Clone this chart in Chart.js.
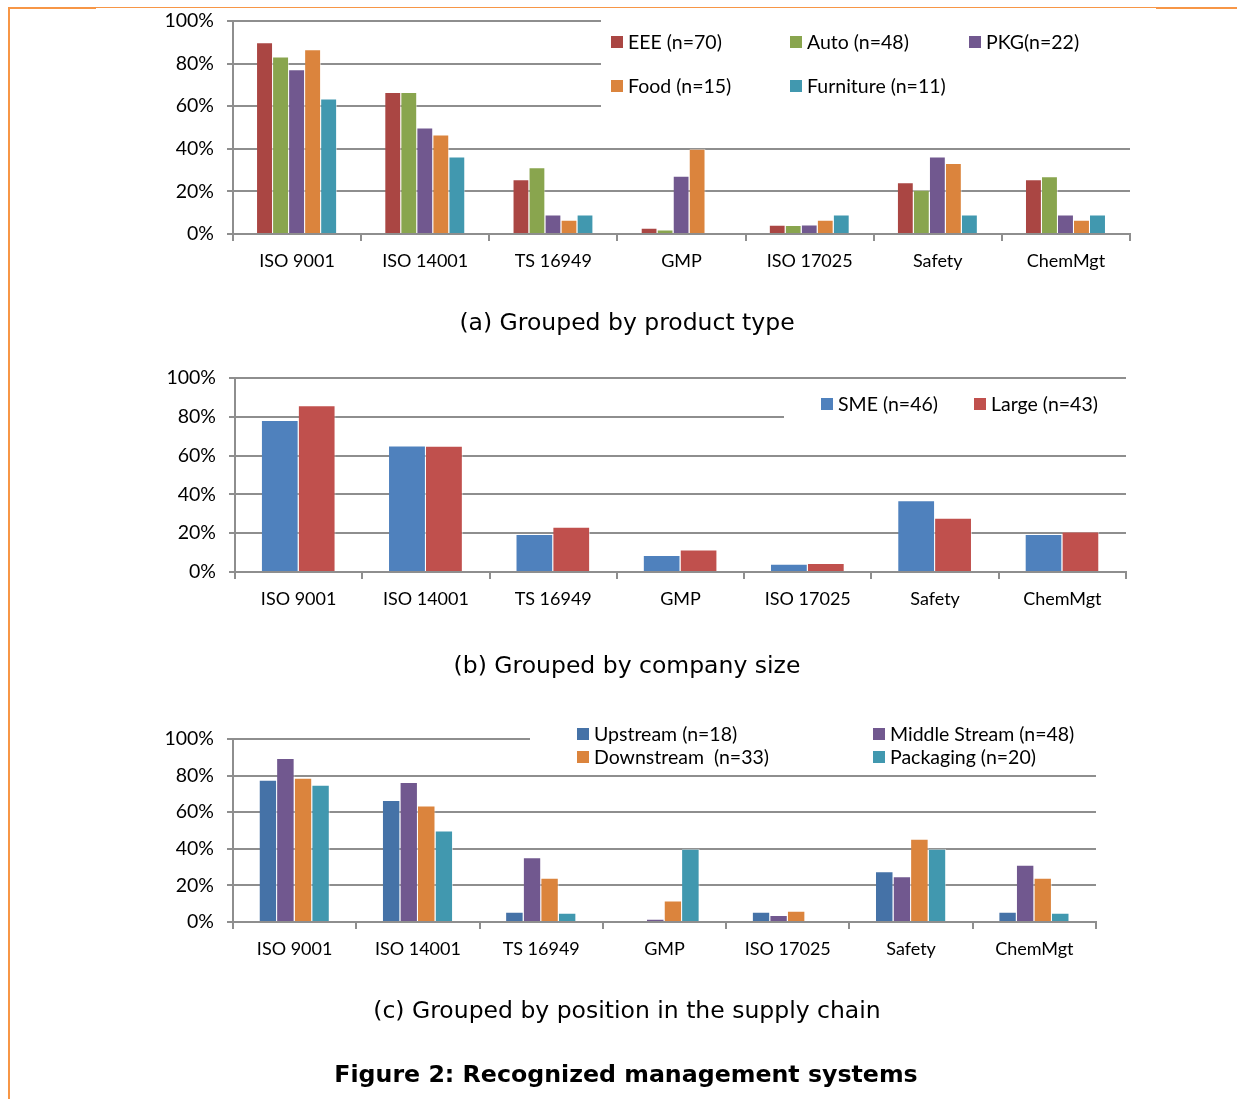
<!DOCTYPE html>
<html>
<head>
<meta charset="utf-8">
<script src="https://cdn.jsdelivr.net/npm/chart.js@4"></script>
<style>
  body { margin: 0; background: #fff; width: 1237px; height: 1099px; position: relative; overflow: hidden; }
  .pane { position: absolute; left: 0; width: 1237px; }
  .cap { position: absolute; left: 0; width: 1254px; text-align: center; font-family: "DejaVu Sans", sans-serif; font-size: 23.5px; color: #000; }
  .title { position: absolute; left: 0; width: 1252px; text-align: center; font-family: "DejaVu Sans", sans-serif; font-weight: bold; font-size: 23.7px; color: #000; }
  .fr { position: absolute; background: #f79646; }
</style>
</head>
<body>
<div class="pane" style="top:-6px;height:296px"><canvas id="chartA"></canvas></div>
<div class="pane" style="top:350px;height:270px"><canvas id="chartB"></canvas></div>
<div class="pane" style="top:700px;height:260px"><canvas id="chartC"></canvas></div>

<div class="fr" style="left:8px;top:7px;width:2px;height:1092px"></div>
<div class="fr" style="left:8px;top:7px;width:88px;height:2px"></div>
<div class="fr" style="left:96px;top:7px;width:1060px;height:1px"></div>
<div class="fr" style="left:1156px;top:7px;width:81px;height:2px"></div>

<div class="cap" style="top:308px">(a) Grouped by product type</div>
<div class="cap" style="top:651px">(b) Grouped by company size</div>
<div class="cap" style="top:996px">(c) Grouped by position in the supply chain</div>
<div class="title" style="top:1060px">Figure 2: Recognized management systems</div>

<script>
"use strict";

// 共用类别
const categories = ["ISO 9001", "ISO 14001", "TS 16949", "GMP", "ISO 17025", "Safety", "ChemMgt"];
const yTicks = [0, 20, 40, 60, 80, 100];

// (a) 按产品类型
const eeeVals = [90.0, 66.7, 25.7, 2.9, 4.3, 24.3, 25.7];
const autoVals = [83.3, 66.7, 31.3, 2.1, 4.2, 20.8, 27.1];
const pkgVals = [77.3, 50.0, 9.1, 27.3, 4.5, 36.4, 9.1];
const foodVals = [86.7, 46.7, 6.7, 40.0, 6.7, 33.3, 6.7];
const furnVals = [63.6, 36.4, 9.1, 0, 9.1, 9.1, 9.1];

// (b) 按企业规模
const smeVals = [78.3, 65.2, 19.6, 8.7, 4.3, 37.0, 19.6];
const largeVals = [86.0, 65.1, 23.3, 11.6, 4.7, 27.9, 20.9];

// (c) 按供应链位置
const upVals = [77.8, 66.7, 5.6, 0, 5.6, 27.8, 5.6];
const midVals = [89.6, 76.5, 35.4, 1.8, 3.8, 25.0, 31.3];
const downVals = [78.8, 63.6, 24.2, 11.8, 6.1, 45.5, 24.2];
const packVals = [75.0, 50.0, 5.0, 40.0, 0, 40.0, 5.0];

const FONT = "Lato, 'Open Sans', sans-serif";
const GRID = "#8e8e8e";

// 图内图例：白底盖住网格线
const insideLegend = {
  id: "insideLegend",
  beforeDatasetsDraw(chart, args, opts) {
    const ctx = chart.ctx;
    ctx.save();
    const b = opts.box;
    ctx.fillStyle = "#fff";
    ctx.fillRect(b[0], b[1], b[2] - b[0], b[3] - b[1]);
    ctx.font = "19.5px " + FONT;
    ctx.textBaseline = "middle";
    ctx.textAlign = "left";
    chart.data.datasets.forEach((ds, i) => {
      const p = opts.pos[i];
      ctx.fillStyle = ds.backgroundColor;
      ctx.fillRect(p[0], p[1] - 6, 12, 12);
      ctx.fillStyle = "#000";
      ctx.fillText(ds.label, p[0] + 17, p[1] + 1);
    });
    ctx.restore();
  },
};

function makeChart(id, series, cfg) {
  const datasets = series.map((s) => ({
    label: s.label,
    data: s.data,
    backgroundColor: s.color,
    borderColor: "rgba(255,255,255,0.55)",
    borderWidth: { top: 1, right: 1, left: 0, bottom: 0 },
    categoryPercentage: cfg.catPct,
    barPercentage: 1.0,
  }));
  return new Chart(document.getElementById(id), {
    type: "bar",
    data: { labels: categories, datasets },
    plugins: [insideLegend],
    options: {
      responsive: true,
      maintainAspectRatio: false,
      animation: false,
      layout: { padding: { left: 0, top: cfg.top, right: 1237 - cfg.right, bottom: 0 } },
      plugins: {
        legend: { display: false },
        tooltip: { enabled: false },
        insideLegend: { box: cfg.box, pos: cfg.pos },
      },
      scales: {
        x: {
          grid: { display: true, drawOnChartArea: false, drawTicks: true, tickLength: 7, color: GRID, lineWidth: 2, offset: true },
          border: { display: true, color: GRID, width: 2 },
          ticks: { color: "#000", font: { family: FONT, size: 18 }, padding: 9, maxRotation: 0, autoSkip: false },
          afterFit: (s) => { s.height = cfg.h - cfg.bottom; },
        },
        y: {
          min: 0,
          max: 100,
          afterBuildTicks: (s) => { s.ticks = yTicks.map((v) => ({ value: v })); },
          grid: { color: GRID, lineWidth: 2, tickLength: 6, drawTicks: true },
          border: { display: true, color: GRID, width: 2 },
          ticks: { color: "#000", font: { family: FONT, size: 19.5 }, padding: cfg.ypad, callback: (v) => v + "%" },
          afterFit: (s) => { s.width = cfg.left; },
        },
      },
    },
  });
}

// 画布 A 上移 6px，坐标均加 6
makeChart("chartA", [
  { label: "EEE (n=70)", data: eeeVals, color: "#aa4643" },
  { label: "Auto (n=48)", data: autoVals, color: "#89a54e" },
  { label: "PKG(n=22)", data: pkgVals, color: "#71588f" },
  { label: "Food (n=15)", data: foodVals, color: "#db843d" },
  { label: "Furniture (n=11)", data: furnVals, color: "#4198af" },
], {
  h: 296, top: 27, bottom: 240, left: 233, right: 1130, ypad: 13, catPct: 0.625,
  box: [601, 18, 1132, 118],
  pos: [[611, 48], [790, 48], [969, 48], [611, 92], [790, 92]],
});

makeChart("chartB", [
  { label: "SME (n=46)", data: smeVals, color: "#4f81bd" },
  { label: "Large (n=43)", data: largeVals, color: "#c0504d" },
], {
  h: 270, top: 28, bottom: 222, left: 235, right: 1126, ypad: 13, catPct: 0.58,
  box: [784, 36, 1128, 80],
  pos: [[821, 54], [974, 54]],
});

makeChart("chartC", [
  { label: "Upstream (n=18)", data: upVals, color: "#4572a7" },
  { label: "Middle Stream (n=48)", data: midVals, color: "#71588f" },
  { label: "Downstream  (n=33)", data: downVals, color: "#db843d" },
  { label: "Packaging (n=20)", data: packVals, color: "#4198af" },
], {
  h: 260, top: 39, bottom: 222, left: 233, right: 1096, ypad: 13, catPct: 0.57,
  box: [530, 20, 1098, 68],
  pos: [[577, 34], [873, 34], [577, 57], [873, 57]],
});
</script>
</body>
</html>
